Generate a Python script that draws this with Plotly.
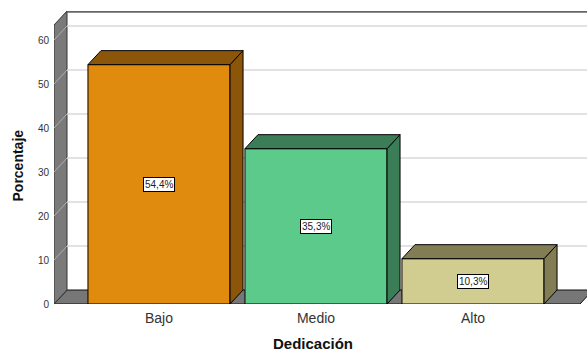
import plotly.graph_objects as go

# ---- data ----
categories = ["Bajo", "Medio", "Alto"]
percentages = [54.4, 35.3, 10.3]
value_labels = ["54,4%", "35,3%", "10,3%"]
front_colors = ["#E08A0E", "#5CCA8A", "#D1CC8F"]
dark_colors = ["#8B550A", "#3A7D57", "#837D55"]
y_ticks = [0, 10, 20, 30, 40, 50, 60]

# ---- geometry (data units) ----
px_per_x = 157.0
px_per_y = 4.4
xmin, xmax = -105 / px_per_x, 428 / px_per_x
ymax = 293 / px_per_y
dxu = 13 / px_per_x          # depth offset in x
dyu = 14 / px_per_y          # depth offset in y
bar_w = 0.905
wall_top = 63.4
floor_right = 421 / px_per_x

xs = list(range(len(categories)))

fig = go.Figure()

# front faces of bars
fig.add_trace(go.Bar(
    x=xs, y=percentages, width=bar_w,
    marker=dict(color=front_colors, line=dict(color="#000000", width=1)),
    hoverinfo="skip", showlegend=False,
))

# side and top faces
for x, v, dc in zip(xs, percentages, dark_colors):
    xl, xr = x - bar_w / 2, x + bar_w / 2
    fig.add_trace(go.Scatter(
        x=[xr, xr, xr + dxu, xr + dxu, xr],
        y=[0, v, v + dyu, dyu, 0],
        fill="toself", fillcolor=dc, mode="lines",
        line=dict(color="#000000", width=1), hoverinfo="skip", showlegend=False,
    ))
    fig.add_trace(go.Scatter(
        x=[xl, xr, xr + dxu, xl + dxu, xl],
        y=[v, v, v + dyu, v + dyu, v],
        fill="toself", fillcolor=dc, mode="lines",
        line=dict(color="#000000", width=1), hoverinfo="skip", showlegend=False,
    ))

shapes = []
# floor
shapes.append(dict(
    type="path", xref="x", yref="y", layer="between",
    path=f"M {xmin},0 L {floor_right},0 L {floor_right + dxu},{dyu} L {xmin + dxu},{dyu} Z",
    fillcolor="#777777", line=dict(color="#111111", width=1),
))
# left wall
shapes.append(dict(
    type="path", xref="x", yref="y", layer="between",
    path=f"M {xmin},0 L {xmin},{wall_top} L {xmin + dxu},{wall_top + dyu} L {xmin + dxu},{dyu} Z",
    fillcolor="#7A7A7A", line=dict(color="#333333", width=1),
))
# back plane top edge
shapes.append(dict(
    type="line", xref="x", yref="y", layer="between",
    x0=xmin + dxu, x1=xmax, y0=wall_top + dyu - 0.15, y1=wall_top + dyu - 0.15,
    line=dict(color="#666666", width=2),
))
# gridlines on back plane and diagonals on wall
for t in y_ticks[1:]:
    shapes.append(dict(
        type="line", xref="x", yref="y", layer="between",
        x0=xmin + dxu, x1=xmax, y0=t + dyu, y1=t + dyu,
        line=dict(color="#D9D9D9", width=1.5),
    ))
    shapes.append(dict(
        type="line", xref="x", yref="y", layer="between",
        x0=xmin, x1=xmin + dxu, y0=t, y1=t + dyu,
        line=dict(color="#B0B0B0", width=1),
    ))

annotations = []
for x, v, lab in zip(xs, percentages, value_labels):
    annotations.append(dict(
        x=x, y=v / 2, xref="x", yref="y", text=lab, showarrow=False,
        font=dict(family="Liberation Sans, Arial", size=10, color="#222222"),
        bgcolor="#FFFFFF", bordercolor="#000000", borderwidth=1, borderpad=1,
    ))

# axis titles (positioned like the original)
annotations.append(dict(
    x=(313 - 54) / 533, y=(304 - 343) / 293, xref="paper", yref="paper",
    text="<b>Dedicación</b>", showarrow=False, xanchor="center", yanchor="middle",
    font=dict(family="Liberation Sans, Arial", size=15, color="#111111"),
))
annotations.append(dict(
    x=(17.5 - 54) / 533, y=(304 - 166) / 293, xref="paper", yref="paper",
    text="<b>Porcentaje</b>", showarrow=False, textangle=-90,
    xanchor="center", yanchor="middle",
    font=dict(family="Liberation Sans, Arial", size=14, color="#111111"),
))

fig.update_layout(
    width=587, height=354,
    margin=dict(l=54, r=0, t=11, b=50),
    paper_bgcolor="#FFFFFF", plot_bgcolor="#FFFFFF",
    font=dict(family="Liberation Sans, Arial", color="#333333"),
    shapes=shapes, annotations=annotations,
    showlegend=False,
    xaxis=dict(
        range=[xmin, xmax], tickmode="array", tickvals=xs, ticktext=categories,
        showgrid=False, zeroline=False, showline=False, ticks="",
        tickfont=dict(size=14, color="#333333"), ticklabelstandoff=4,
    ),
    yaxis=dict(
        range=[0, ymax], tickmode="array", tickvals=y_ticks,
        showgrid=False, zeroline=False, showline=False, ticks="",
        tickfont=dict(size=10, color="#333333"), ticklabelstandoff=4,
    ),
)

fig.write_html("out.html")
